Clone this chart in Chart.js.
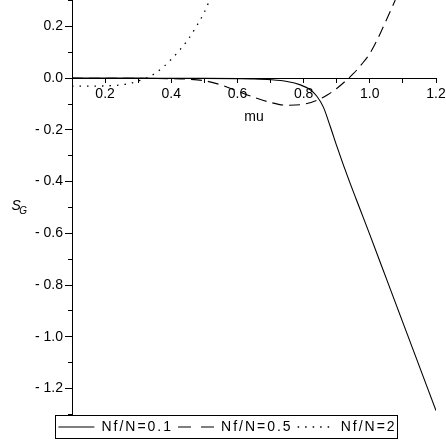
<!DOCTYPE html>
<html>
<head>
<meta charset="utf-8">
<script src="https://cdn.jsdelivr.net/npm/chart.js@4/dist/chart.umd.min.js"></script>
<style>
html,body{margin:0;padding:0;background:#fff;}
#wrap{width:446px;height:444px;position:relative;}
canvas{display:block;}
</style>
</head>
<body>
<div id="wrap"><canvas id="c" width="446" height="444"></canvas></div>
<script>
// ---- data ----
const seriesNames = ['Nf/N=0.1', 'Nf/N=0.5', 'Nf/N=2'];

const mu1 = [0.1, 0.2, 0.3, 0.4, 0.5, 0.6, 0.65, 0.7, 0.75, 0.79, 0.82, 0.84, 0.86, 0.88, 0.9, 0.92, 0.94, 0.96, 0.98, 1.0, 1.05, 1.1, 1.15, 1.2];
const s1  = [0, 0, 0, -0.0005, -0.001, -0.002, -0.003, -0.006, -0.013, -0.026, -0.045, -0.07, -0.113, -0.185, -0.262, -0.335, -0.405, -0.472, -0.538, -0.605, -0.775, -0.945, -1.115, -1.285];

const mu2 = [0.1, 0.2, 0.3, 0.4, 0.45, 0.5, 0.55, 0.6, 0.65, 0.7, 0.75, 0.8, 0.85, 0.875, 0.9, 0.925, 0.95, 0.975, 1.0, 1.025, 1.05, 1.077];
const s2  = [0, -0.0005, -0.001, -0.002, -0.004, -0.01, -0.026, -0.05, -0.074, -0.094, -0.105, -0.101, -0.08, -0.062, -0.04, -0.013, 0.017, 0.053, 0.095, 0.155, 0.225, 0.302];

const mu3 = [0.1, 0.15, 0.2, 0.25, 0.28, 0.3, 0.325, 0.35, 0.375, 0.4, 0.425, 0.45, 0.475, 0.5, 0.516];
const s3  = [-0.031, -0.031, -0.03, -0.026, -0.019, -0.011, 0.0, 0.018, 0.042, 0.073, 0.108, 0.148, 0.198, 0.255, 0.302];

const xRange = [0.1, 1.2];
const yRange = [-1.302, 0.302];
const xTitle = 'mu';
const yTitleMain = 'S';
const yTitleSub = 'G';

// ---- helpers ----
const FONT = '"Liberation Sans", Arial, Helvetica, sans-serif';
const lineDashes = [[], [11, 6], [1.5, 6]];
const legendDashes = [[], [13, 10], [1.5, 6]];
function pts(xs, ys) { return xs.map((x, i) => ({x: x, y: ys[i]})); }
function fmtTick(v) {
  const r = Math.round(v * 10);
  if (r % 2 !== 0) return '';
  const a = (Math.abs(r) / 10).toFixed(1);
  return r < 0 ? '- ' + a : a;
}

// legend text is letter-spaced in the reference
function patchLegend(lg) {
  if (!lg || lg.__patched) return;
  lg.__patched = true;
  const f = lg.fit, d = lg.draw;
  lg.fit = function () {
    const c = this.ctx; const p = c.letterSpacing;
    c.letterSpacing = '2px';
    try { return f.apply(this, arguments); } finally { c.letterSpacing = p || '0px'; }
  };
  lg.draw = function () {
    const c = this.ctx; const p = c.letterSpacing;
    c.letterSpacing = '2px';
    try { return d.apply(this, arguments); } finally { c.letterSpacing = p || '0px'; }
  };
}

const decorPlugin = {
  id: 'decor',
  afterInit(chart) { patchLegend(chart.legend); },
  afterDraw(chart) {
    const ctx = chart.ctx;
    ctx.save();
    ctx.letterSpacing = '0px';
    // legend frame
    const hb = chart.legend && chart.legend.legendHitBoxes;
    if (hb && hb.length) {
      let l = Infinity, r = -Infinity, t = Infinity, b = -Infinity;
      hb.forEach(h => { l = Math.min(l, h.left); r = Math.max(r, h.left + h.width); t = Math.min(t, h.top); b = Math.max(b, h.top + h.height); });
      ctx.strokeStyle = '#000';
      ctx.lineWidth = 1;
      ctx.strokeRect(Math.round(l - 3) + 0.5, Math.round(t - 5) + 0.5, Math.round(r - l + 4), Math.round(b - t + 9));
    }
    // y-axis title S_G
    const yc = chart.scales.y.getPixelForValue(-0.5);
    ctx.fillStyle = '#000';
    ctx.textBaseline = 'alphabetic';
    ctx.textAlign = 'left';
    ctx.font = 'italic 14px ' + FONT;
    ctx.fillText(yTitleMain, 11.5, yc + 2.5);
    const w = ctx.measureText(yTitleMain).width;
    ctx.font = 'italic 10px ' + FONT;
    ctx.fillText(yTitleSub, 11.5 + w - 1.5, yc + 6);
    ctx.restore();
  }
};

const tickFont = {family: FONT, size: 14};

const chart = new Chart(document.getElementById('c'), {
  type: 'line',
  data: {
    datasets: [
      {label: seriesNames[0], data: pts(mu1, s1), borderColor: '#000', backgroundColor: '#000', borderWidth: 1.1, borderDash: lineDashes[0], pointRadius: 0, cubicInterpolationMode: 'monotone', fill: false},
      {label: seriesNames[1], data: pts(mu2, s2), borderColor: '#000', backgroundColor: '#000', borderWidth: 1.1, borderDash: lineDashes[1], pointRadius: 0, cubicInterpolationMode: 'monotone', fill: false},
      {label: seriesNames[2], data: pts(mu3, s3), borderColor: '#000', backgroundColor: '#000', borderWidth: 1.3, borderDash: lineDashes[2], pointRadius: 0, cubicInterpolationMode: 'monotone', fill: false}
    ]
  },
  options: {
    responsive: false,
    animation: false,
    devicePixelRatio: 1,
    layout: {padding: {left: 19, right: 10, top: 0, bottom: 0}},
    plugins: {
      tooltip: {enabled: false},
      legend: {
        display: true,
        position: 'bottom',
        labels: {
          usePointStyle: true,
          pointStyle: 'line',
          pointStyleWidth: 36,
          padding: 5,
          color: '#000',
          font: {family: FONT, size: 14},
          generateLabels(chart) {
            return chart.data.datasets.map((ds, i) => ({
              text: ds.label, datasetIndex: i, hidden: false,
              fillStyle: '#000', strokeStyle: '#000', fontColor: '#000',
              lineWidth: ds.borderWidth, lineDash: legendDashes[i], lineCap: 'butt',
              pointStyle: 'line', rotation: 0
            }));
          }
        }
      }
    },
    scales: {
      x: {
        type: 'linear',
        min: xRange[0], max: xRange[1],
        position: {y: 0},
        afterFit(s) { s.paddingLeft = 0; s.paddingRight = 0; },
        ticks: {stepSize: 0.1, autoSkip: false, maxRotation: 0, includeBounds: false, padding: 4, color: '#000', font: tickFont, callback: (v) => fmtTick(v)},
        grid: {display: true, drawOnChartArea: false, drawTicks: true, tickLength: 4, color: '#000', tickColor: '#000', lineWidth: 1},
        border: {display: true, color: '#000', width: 1},
        title: {display: true, text: xTitle, color: '#000', font: {family: FONT, size: 14}, padding: {top: 2, bottom: 0}}
      },
      y: {
        type: 'linear',
        min: yRange[0], max: yRange[1],
        position: 'left',
        weight: 2,
        afterFit(s) { s.width = 53; s.paddingTop = 0; s.paddingBottom = 0; },
        ticks: {stepSize: 0.2, autoSkip: false, includeBounds: false, padding: 2, color: '#000', font: tickFont, callback: (v) => fmtTick(v)},
        grid: {display: true, drawOnChartArea: false, drawTicks: true, tickLength: 7, color: '#000', tickColor: '#000', lineWidth: 1},
        border: {display: true, color: '#000', width: 1}
      },
      y2: {
        type: 'linear',
        min: yRange[0], max: yRange[1],
        position: 'left',
        weight: 1,
        afterFit(s) { s.width = 0; s.paddingTop = 0; s.paddingBottom = 0; },
        ticks: {stepSize: 0.1, autoSkip: false, includeBounds: false, padding: 0, font: tickFont, callback: () => ''},
        grid: {display: true, drawOnChartArea: false, drawTicks: true, tickLength: 4, color: '#000', tickColor: '#000', lineWidth: 1},
        border: {display: false}
      }
    }
  },
  plugins: [decorPlugin]
});
if (chart.legend && !chart.legend.__patched) { patchLegend(chart.legend); chart.update('none'); }
</script>
</body>
</html>
